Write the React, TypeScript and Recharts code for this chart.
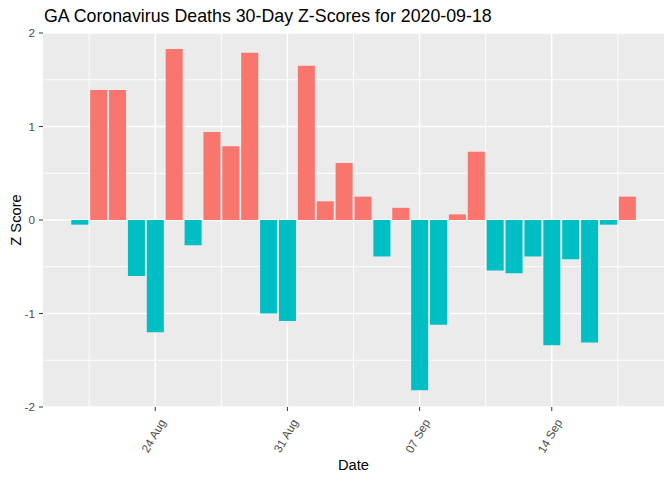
import { Bar, BarChart, CartesianGrid, Cell, XAxis, YAxis } from "recharts";

// days from 2020-08-20 to 2020-09-18
const dates = [
  "2020-08-20", "2020-08-21", "2020-08-22", "2020-08-23", "2020-08-24", "2020-08-25",
  "2020-08-26", "2020-08-27", "2020-08-28", "2020-08-29", "2020-08-30", "2020-08-31",
  "2020-09-01", "2020-09-02", "2020-09-03", "2020-09-04", "2020-09-05", "2020-09-06",
  "2020-09-07", "2020-09-08", "2020-09-09", "2020-09-10", "2020-09-11", "2020-09-12",
  "2020-09-13", "2020-09-14", "2020-09-15", "2020-09-16", "2020-09-17", "2020-09-18"
];
const zScores = [
  -0.05, 1.39, 1.39, -0.6, -1.2, 1.83, -0.27, 0.94, 0.79, 1.79, -1.0, -1.08,
  1.65, 0.2, 0.61, 0.25, -0.39, 0.13, -1.82, -1.12, 0.06, 0.73, -0.54, -0.57,
  -0.39, -1.34, -0.42, -1.31, -0.05, 0.25
];
const xTickDates = ["2020-08-24", "2020-08-31", "2020-09-07", "2020-09-14"];
const xTickLabels = ["24 Aug", "31 Aug", "07 Sep", "14 Sep"];
const xMinorDates = ["2020-08-20", "2020-08-27", "2020-09-03", "2020-09-10", "2020-09-17"];
const yTicks = [-2, -1, 0, 1, 2];
const yMinor = [-1.5, -0.5, 0.5, 1.5];

const day = (d: string) => (Date.parse(d) - Date.parse(dates[0])) / 86400000;

const data = dates.map((d, i) => ({ t: day(d), z: zScores[i] }));
const xTicks = xTickDates.map(day);
const xMinor = xMinorDates.map((d) => day(d) + 0.5);
const labelOf = (v: number) => xTickLabels[xTicks.indexOf(v)] ?? "";

const font = "'Liberation Sans', Arial, sans-serif";

function DateTick({ x, y, payload }: any) {
  const px = x + 11;
  const py = y + 9;
  return (
    <text
      x={px}
      y={py}
      transform={`rotate(-60 ${px} ${py})`}
      textAnchor="end"
      fill="#4D4D4D"
      fontSize={11.7}
      fontFamily={font}
    >
      {labelOf(payload.value)}
    </text>
  );
}

export default function App() {
  return (
    <div style={{ position: "relative", width: 672, height: 480, fontFamily: font }}>
      <style>{"body{margin:0}"}</style>
      <BarChart width={672} height={480} data={data} margin={{ top: 33, right: 8, bottom: 0, left: 0 }}>
        <CartesianGrid fill="#EBEBEB" stroke="#FFFFFF" strokeWidth={0.9} horizontalValues={yMinor} verticalValues={xMinor} />
        <CartesianGrid stroke="#FFFFFF" strokeWidth={1.4} horizontalValues={yTicks} verticalValues={xTicks} />
        <XAxis
          dataKey="t"
          type="number"
          domain={[-1.945, 30.945]}
          ticks={xTicks}
          allowDataOverflow
          height={73}
          axisLine={false}
          tickSize={4}
          tickLine={{ stroke: "#333333" }}
          tick={<DateTick />}
        />
        <YAxis
          type="number"
          domain={[-2, 2]}
          ticks={yTicks}
          width={43}
          axisLine={false}
          tickSize={4}
          tickMargin={4}
          tickLine={{ stroke: "#333333" }}
          tick={{ fill: "#4D4D4D", fontSize: 11.7, fontFamily: font }}
        />
        <Bar dataKey="z" barSize={17} isAnimationActive={false}>
          {data.map((d) => (
            <Cell key={d.t} fill={d.z >= 0 ? "#F8766D" : "#00BFC4"} />
          ))}
        </Bar>
      </BarChart>
      <svg width={672} height={480} style={{ position: "absolute", left: 0, top: 0, pointerEvents: "none" }}>
        <text x={44} y={22} fontSize={17.8} fontFamily={font} fill="#000000">
          GA Coronavirus Deaths 30-Day Z-Scores for 2020-09-18
        </text>
        <text x={353.5} y={470} textAnchor="middle" fontSize={14.7} fontFamily={font} fill="#000000">
          Date
        </text>
        <text x={20.5} y={220} textAnchor="middle" transform="rotate(-90 20.5 220)" fontSize={14.7} fontFamily={font} fill="#000000">
          Z Score
        </text>
      </svg>
    </div>
  );
}
